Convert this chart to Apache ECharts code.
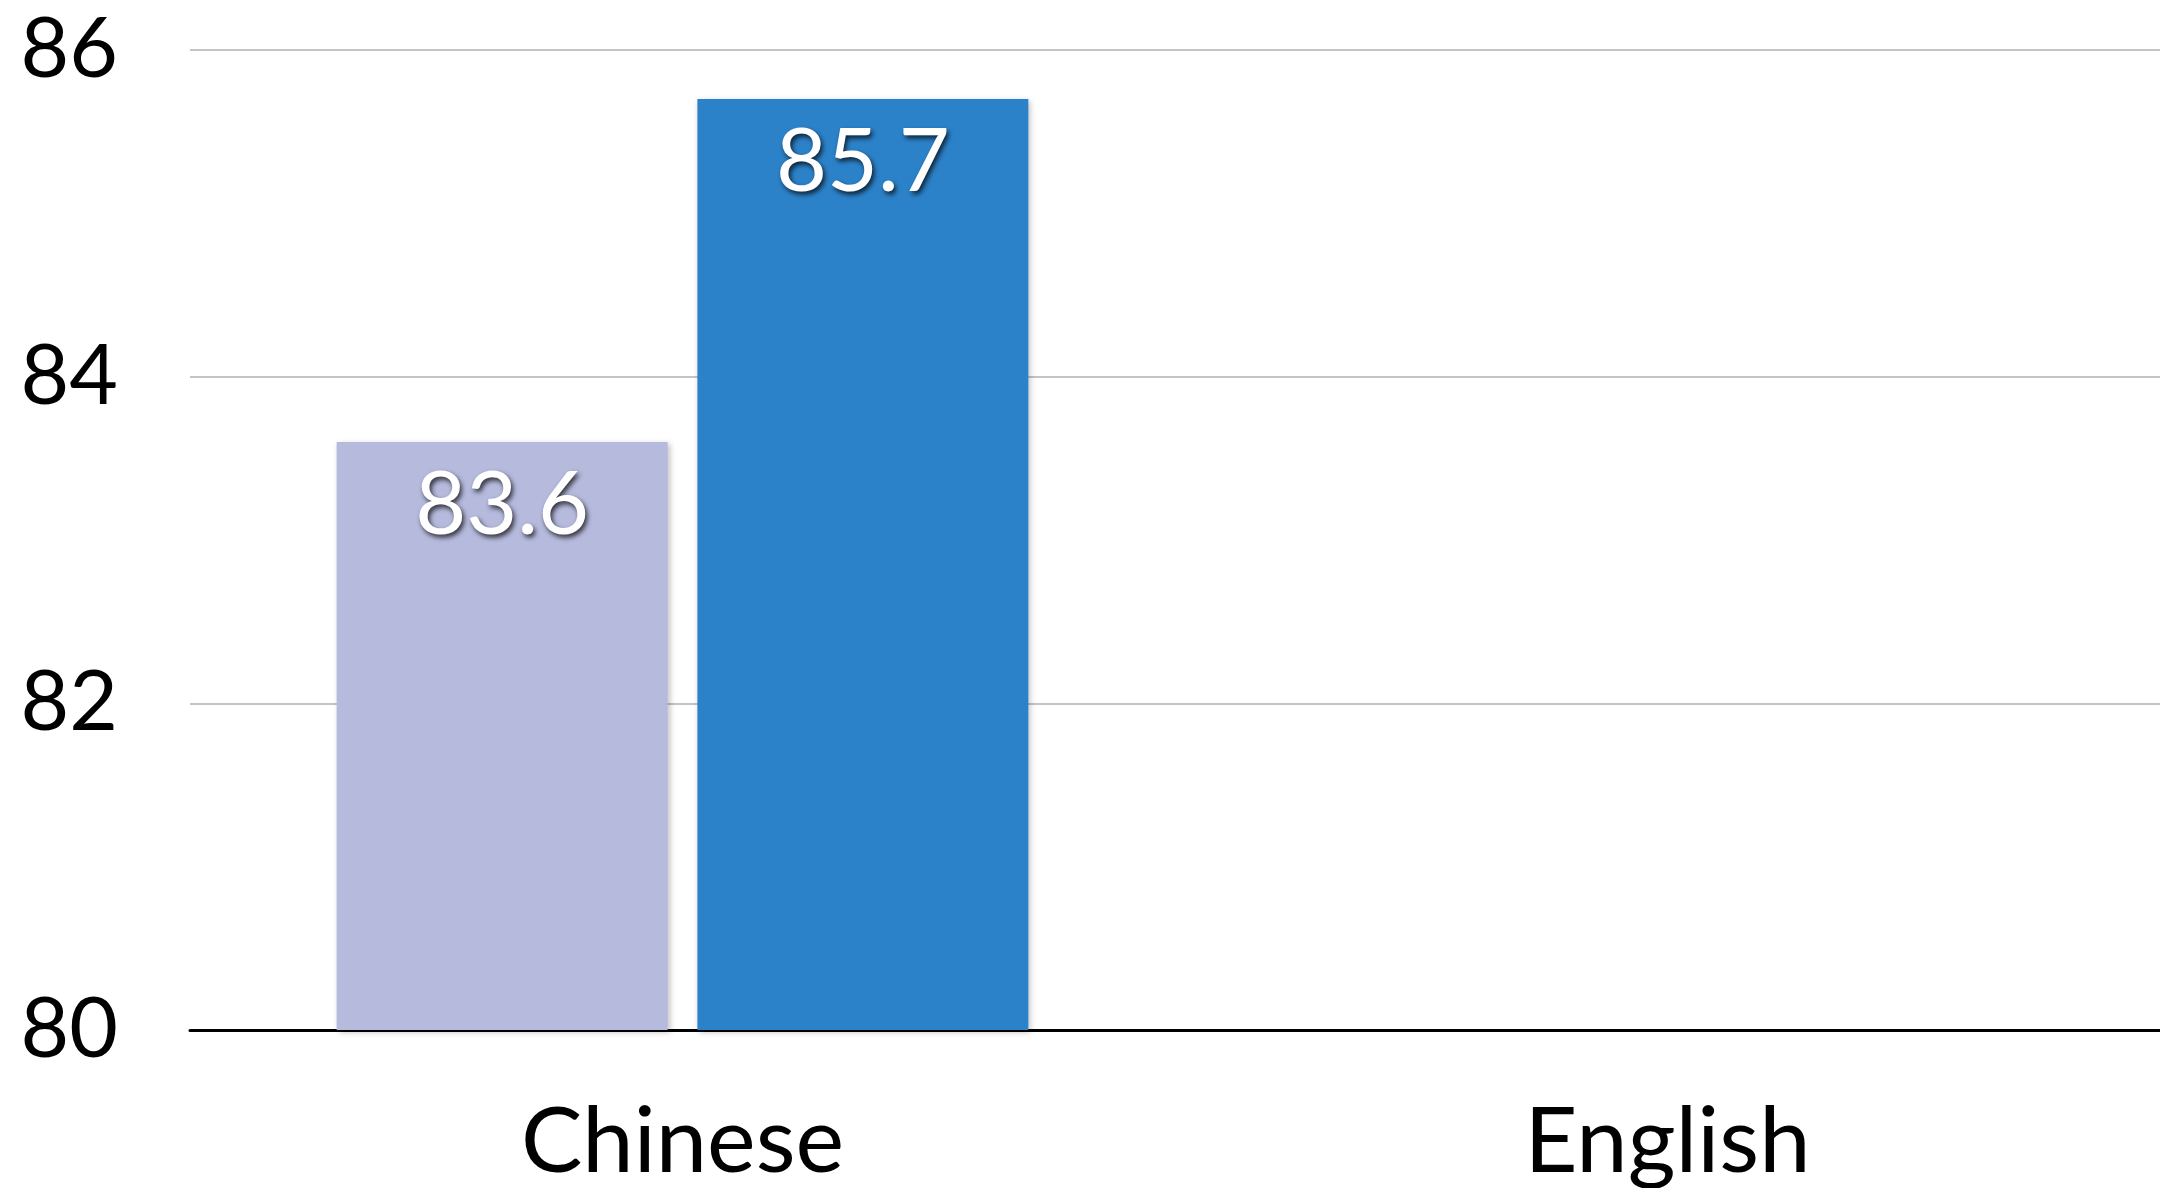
<!DOCTYPE html>
<html>
<head>
<meta charset="utf-8">
<script src="https://cdn.jsdelivr.net/npm/echarts@6/dist/echarts.min.js"></script>
<style>
  html, body { margin: 0; padding: 0; background: #fff; }
  #main { width: 2160px; height: 1188px; }
</style>
</head>
<body>
<div id="main"></div>
<script>
// data
const categories = ['Chinese', 'English'];
const seriesA = [83.6, null];   // light bar
const seriesB = [85.7, null];   // blue bar
const yMin = 80, yMax = 86, yStep = 2;

const chart = echarts.init(document.getElementById('main'));

const labelStyle = {
  show: true,
  position: 'insideTop',
  distance: 20,
  color: '#fff',
  fontFamily: 'Lato',
  fontSize: 88,
  textShadowColor: 'rgba(0,0,0,0.75)',
  textShadowBlur: 5,
  textShadowOffsetX: 2,
  textShadowOffsetY: 3
};

const barShadow = {
  shadowColor: 'rgba(0,0,0,0.25)',
  shadowBlur: 6,
  shadowOffsetX: 2,
  shadowOffsetY: 2
};

chart.setOption({
  animation: false,
  grid: { left: 190, right: 0, top: 50, bottom: 155, containLabel: false },
  xAxis: {
    type: 'category',
    data: categories,
    axisLine: { lineStyle: { color: '#000', width: 3 } },
    axisTick: { show: false },
    axisLabel: { color: '#000', fontFamily: 'Lato', fontSize: 92, margin: 66 }
  },
  yAxis: {
    type: 'value',
    min: yMin,
    max: yMax,
    interval: yStep,
    axisLine: { show: false },
    axisTick: { show: false },
    splitLine: { lineStyle: { color: '#c4c4c4', width: 2 } },
    axisLabel: { color: '#000', fontFamily: 'Lato', fontSize: 84, margin: 72 }
  },
  series: [
    {
      type: 'bar',
      data: seriesA,
      barWidth: '33.6%',
      barGap: '9%',
      itemStyle: Object.assign({ color: '#b6badd' }, barShadow),
      label: labelStyle
    },
    {
      type: 'bar',
      data: seriesB,
      barWidth: '33.6%',
      itemStyle: Object.assign({ color: '#2c82c9' }, barShadow),
      label: labelStyle
    }
  ]
});
</script>
</body>
</html>
